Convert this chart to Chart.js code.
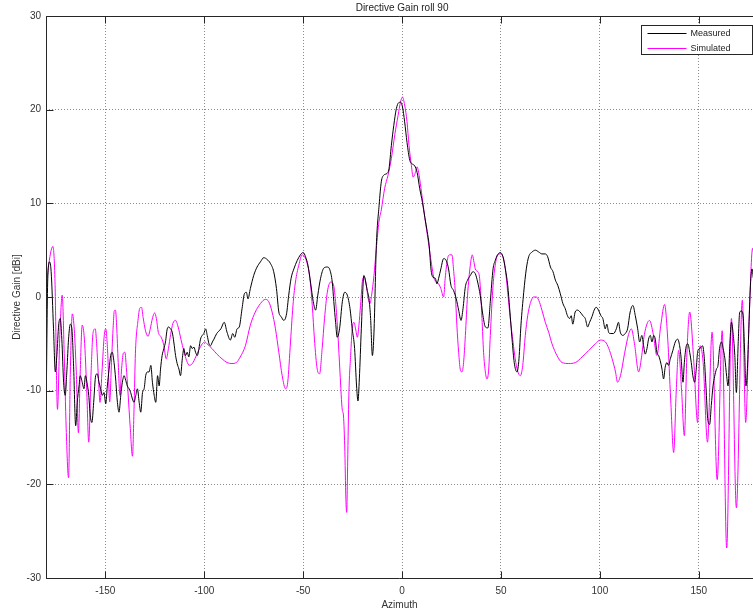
<!DOCTYPE html>
<html><head><meta charset="utf-8">
<script src="https://cdn.jsdelivr.net/npm/chart.js@4.4.1/dist/chart.umd.min.js"></script>
<style>html,body{margin:0;padding:0;background:#fff;overflow:hidden}</style>
</head><body>
<canvas id="c" width="753" height="613"></canvas>
<script>
const chartTitle = 'Directive Gain roll 90';
const xAxisTitle = 'Azimuth';
const yAxisTitle = 'Directive Gain [dBi]';
const seriesNames = ['Measured', 'Simulated'];
const xTicks = [-150, -100, -50, 0, 50, 100, 150];
const yTicks = [-30, -20, -10, 0, 10, 20, 30];

// [azimuth (deg), gain (dBi)]
const measured = [
[-180,-13.4],[-179.1,2],[-178.2,3.75],[-177.4,2.7],[-176.2,-3.4],[-175.3,-8],[-174.5,-6.2],[-173.6,-3],[-172.8,-2.3],[-172,-4.5],[-171.1,-9.1],[-170.3,-10.5],[-169.4,-7.7],[-168.6,-4.5],[-167.7,-2.9],[-166.9,-3.4],[-166,-7.7],[-165,-13.75],[-164.2,-11.25],[-163.3,-9.5],[-162.7,-8.4],[-161.7,-9.1],[-160.8,-9.8],[-160.1,-8.4],[-159.3,-9.1],[-158.4,-10.5],[-157.6,-12.7],[-156.8,-13.4],[-155.9,-11.25],[-154.9,-8.4],[-154.1,-8.2],[-153.2,-9.1],[-152.4,-9.8],[-151.5,-10.5],[-150.7,-10.2],[-149.8,-11.4],[-149,-9.5],[-148.1,-7.7],[-147.3,-6.25],[-146.5,-5.9],[-145.6,-7],[-144.8,-8.75],[-143.9,-11.25],[-143.1,-12.3],[-142.2,-10.5],[-141.4,-9.1],[-140.5,-8.4],[-139.7,-8.9],[-138.9,-9.5],[-138,-9.8],[-137.2,-10.2],[-136.3,-10.9],[-135.5,-11.25],[-134.6,-10.5],[-133.8,-9.8],[-132.9,-11.25],[-132.1,-12.3],[-131.2,-10.2],[-130.4,-9.8],[-129.6,-8.4],[-128.7,-8],[-127.9,-8],[-127,-7.3],[-126.2,-9.1],[-125.3,-10.5],[-124.5,-11.25],[-123.6,-8.4],[-122.8,-9.5],[-122.1,-7.7],[-121.3,-6.25],[-120.4,-5.5],[-119.6,-4.8],[-118.7,-3.4],[-117.9,-3.2],[-117.1,-3.4],[-116.2,-3.75],[-115.4,-4.8],[-114.5,-6.25],[-113.7,-7.1],[-112.8,-7.7],[-112,-8.4],[-111.1,-6.6],[-110.3,-5.5],[-109.5,-6.25],[-108.6,-5.9],[-107.8,-6.4],[-106.9,-5.2],[-106.1,-5.5],[-105.2,-5.35],[-104.4,-5.9],[-103.5,-6.25],[-102.7,-5.5],[-101.9,-4.5],[-101,-4.1],[-100.2,-3.9],[-99.3,-3.4],[-98.5,-4.1],[-97.6,-5],[-96.8,-5.2],[-95.9,-4.8],[-95.1,-4.5],[-93.7,-3.9],
[-91.6,-3.4],[-89.9,-2.7],[-88.5,-3.75],[-86.8,-4.6],[-85.6,-3.9],[-84.6,-4.3],[-83.4,-3.4],[-82.3,-3.2],[-80.9,-1.25],[-79.7,0.35],[-78.7,0.5],[-77.9,-0.2],[-76.7,0.9],[-75,2.3],[-73.3,3.2],[-71.6,3.75],[-69.9,4.2],[-68.2,4],[-66.6,3.6],[-64.9,2.7],[-63.5,0.9],[-62.3,-1.6],[-61.1,-2.1],[-59.8,-2.5],[-58.4,-1.8],[-57.3,0.2],[-56.1,2],[-54.7,3],[-53,3.9],[-51.4,4.5],[-50,4.75],[-48.8,4.3],[-47.6,3.4],[-46.3,1.6],[-44.9,-0.5],[-43.7,-1.4],[-42.6,0.2],[-41.2,2],[-39.5,3.1],[-37.8,3.2],[-36.5,2.9],[-35.3,1.6],[-34.5,-0.5],[-33.6,-2.7],[-32.8,-4.3],[-31.6,-3.4],[-30.2,-0.5],[-29,0.5],[-27.7,0.2],[-26.3,-1.25],[-25.2,-3.4],[-24,-5.5],[-23,-9.5],[-22.3,-11.1],[-21.6,-8.75],[-20.6,-3.4],[-19.3,2.3],[-18.4,1.6],[-17.6,0.7],[-16.7,-0.2],[-15.9,-2.3],[-15,-6.25],[-14.2,-3.75],
[-13,5.5],[-11.6,9.8],[-10.5,12.3],[-9.3,13],[-7.6,13.2],[-6.6,13.7],[-5.4,16.2],[-4.2,18.3],[-2.9,20.1],[-1.7,20.75],[-0.7,20.8],[0.2,20.3],[1.3,18.7],[2.5,16.5],[3.9,14.6],[5.2,14.2],[6.4,14],[7.6,13.3],[8.9,11.6],[10.3,10.1],[11.5,8.5],[12.7,7],[13.7,5.5],[14.6,3],[15.6,2.1],[16.8,2],[17.6,1.4],[18.5,2],[19.6,3],[21,4.1],[22.3,3.9],[23.5,3],[24.7,1.25],[26,0.7],[27.4,-0.2],[28.6,-1.4],[29.8,-2.5],[30.8,-1.25],[32,1.1],[33.1,1.8],[34.5,2.3],[35.8,2.7],[37,2.5],[38.2,1.6],[39.5,0.2],[40.9,-2],[42.1,-3.2],[43.4,-3.3],[44.6,-0.5],[46,3],[47.1,3.9],[48.3,4.5],[49.7,4.75],[51,4.3],[52.2,3],[53.4,1.25],[54.4,-1.25],[55.6,-4.5],[56.7,-7],[58.1,-8],[59.1,-6.6],[60.1,-3],[61.5,0.5],[62.8,3],[64,4.3],[65.7,4.8],[67.4,5],[69.1,4.8],[70.7,4.6],[72.4,4.6],[73.6,4.3],[75,3.2],[76.3,2.7],[77.5,1.8],[78.7,1.25],[80,0.35],[81.3,-0.7],[82.5,-1.25],[83.6,-2],[84.7,-2.3],[85.5,-2],[86.3,-2.9],[87.5,-1.6],[88.7,-1.4],[90,-1.6],[91.4,-2],[92.6,-2.3],[93.8,-3.2],[94.8,-2.7],[96,-2.1],[97.1,-1.4],[98.1,-1.1],[99.3,-1.4],[100.5,-2],[101.5,-2.3],[102.7,-3.4],[103.5,-2.9],[104.4,-3.75],[105.2,-3.9],[106.9,-3.9],[108.3,-3.4],[109.4,-2.7],[110.3,-3.75],[111.6,-4.1],[112.8,-3.9],[114,-3.4],[115.3,-1.6],[116.7,-0.9],[117.9,-2],[119.1,-3.4],[120.1,-4.8],[121.2,-4.1],[122.1,-5.2],[122.9,-6.1],[123.8,-5.5],[124.6,-4.5],[125.5,-4.1],[126.3,-4.8],[127.2,-4.1],[128,-4.5],[128.8,-5.9],[129.7,-6.25],[130.5,-6.8],[131.4,-7.7],[132.2,-8.75],[133,-7.5],[133.9,-7],[134.7,-7.3],[135.6,-6.6],[136.9,-5.7],[138.1,-4.8],[139.3,-4.5],[140.3,-5.2],[141.1,-6.6],[142,-9.1],[142.7,-7],[143.7,-5.2],[144.5,-5],[145.4,-5.9],[146.2,-7],[147,-8.4],[147.9,-9.1],[148.7,-7.7],[149.4,-5.9],[150.3,-5.5],[151.1,-5.4],[151.9,-5.2],[152.8,-6.6],[153.6,-9.5],[154.6,-13.2],[155.5,-13.6],[156.3,-11.6],[157.2,-9.5],[158,-8.5],[158.9,-7.7],[159.7,-7.3],[160.5,-5.5],[161.5,-4.8],[162.3,-5.5],[163.2,-6.6],[164.1,-8.5],[164.8,-9.5],[165.7,-5],[166.5,-2.7],[167.4,-4],[168.2,-6.25],[169,-10.2],[169.9,-5],[170.7,-1.6],[171.6,-1.5],[172.4,-2],[173.2,-6],[173.8,-9.5],[174.5,-8],[175.2,-4],[176.1,1.25],[176.9,3],[177.6,2],[178.5,1.5],[180,0]
];

const simulated = [
[-180,0.5],[-178.9,3],[-176.5,5.4],[-175.5,2],[-174.2,-12],[-173,-4],[-171.8,0.2],[-170.8,-6],[-169.8,-14],[-168.6,-19.3],[-167.7,-8],[-166.7,-1.8],[-165.7,-3.5],[-164.7,-8],[-163.6,-14.5],[-162.7,-8],[-161.7,-3],[-160.6,-4.5],[-159.4,-10],[-158.4,-15.5],[-157.2,-8],[-156.2,-3.8],[-155.1,-3.4],[-154.4,-5],[-153.4,-9],[-152.7,-11.25],[-151.7,-8],[-150.5,-4],[-149.8,-3.4],[-148.8,-6],[-147.8,-11.2],[-146.9,-7],[-146,-3],[-145.5,-1.5],[-144.9,-1.4],[-144.3,-3],[-143.5,-7],[-142.6,-10.5],[-141.9,-8],[-140.9,-6],[-140.1,-5.9],[-139.4,-7.5],[-138.6,-10],[-137.4,-14],[-136.3,-17],[-135.5,-12],[-134.8,-6],[-133.5,-2.5],[-132.6,-1.2],[-131.7,-1.1],[-130.9,-2.2],[-129.7,-3.6],[-128.4,-4.2],[-127.4,-3.5],[-126.1,-2.2],[-125.1,-1.7],[-124.2,-2.3],[-123.2,-3.8],[-122,-4.2],[-120.6,-5],[-119.2,-6.6],[-118.1,-5.5],[-117,-4],[-115.8,-2.8],[-114.5,-2.5],[-113.2,-3.2],[-111.8,-4.5],[-110.3,-5.8],[-108.9,-6.8],[-107.5,-7.3],[-106,-7.1],[-104.3,-6.4],[-102.6,-5.6],[-101,-5],[-99.7,-4.8],[-98.6,-5],[-96.1,-5.5],[-93.6,-6.1],[-91,-6.6],[-88.5,-7],[-86,-7.1],[-83.8,-7],[-81.8,-6.4],[-79.2,-5.2],[-76.7,-3],[-74.2,-1.6],[-71.6,-0.7],[-69.1,-0.25],[-67.4,-0.5],[-65.7,-1.6],[-64,-3.4],[-62.3,-5.9],[-60.6,-8.4],[-58.9,-9.8],[-57.8,-9.1],[-56.4,-4.8],[-55,-0.5],[-53.9,1.6],[-52.2,3.4],[-50.5,4.5],[-49.3,4.3],[-48,3.6],[-46.6,2],[-45.4,-0.9],[-44.3,-4.5],[-42.9,-7.7],[-41.7,-8.2],[-40.4,-5.5],[-39.2,-2.3],[-37.8,0.5],[-36.1,1.6],[-34.8,1.4],[-33.6,-0.5],[-32.4,-4.1],[-31.4,-8],[-30.2,-12.1],[-29.7,-12.5],[-29,-15.9],[-28.4,-21.6],[-28,-23],[-27.5,-17.7],[-26.9,-10.5],[-26,-6.25],[-25.2,-3.4],[-24.3,-2.7],[-23.5,-3.4],[-22.6,-4.3],[-21.8,-3],[-21,-0.9],[-19.8,2],[-18.9,2.1],[-18.1,1.25],[-17.1,-0.2],[-16.2,-0.7],[-15.4,0.2],[-14.2,2.3],[-13,5.2],[-11.7,8],[-10.5,9.3],[-8.8,11.6],[-7.1,13],[-5.4,14.8],[-3.7,17.3],[-2,19.4],[-0.8,20.8],[0.2,21.35],[1.3,20.5],[2.5,18.7],[3.5,16.2],[4.7,14.05],[5.6,12.8],[6.6,13.2],[7.6,13.9],[8.6,13],[9.8,11.2],[11.5,8.5],[13.2,6],[14.9,3.5],[16,2.1],[17.4,1.6],[18.5,1.4],[19.6,0.9],[21,0],[21.8,2],[23,4.1],[24,4.5],[25.2,4.5],[26,3],[26.9,0.5],[27.7,-3],[28.6,-5.9],[29.4,-7.7],[30.3,-8],[31.1,-7],[32,-4.1],[33.1,0.2],[34.5,3.4],[35.5,4.5],[36.2,3.9],[37,3],[38.2,2.7],[39.2,2],[40.4,-2.3],[41.2,-5.9],[42.1,-8],[42.9,-8.75],[43.8,-7.7],[44.6,-4.1],[46,1.25],[47.1,3.4],[48.3,4.5],[49.7,4.6],[51,4.3],[52.2,3],[53.4,0.5],[54.7,-2.3],[56.1,-4.8],[57.2,-6.6],[58.4,-7.9],[59.8,-8.4],[61,-7.3],[62.3,-4.1],[63.5,-2],[64.8,-0.7],[66.5,0],[67.9,0],[69.1,-0.35],[70.7,-1.4],[72.4,-2.7],[74.1,-3.75],[75.8,-5],[78.3,-6.25],[80.9,-7],[84.2,-7.1],[87.6,-7],[91,-6.4],[94.4,-5.7],[97.7,-5],[100.2,-4.6],[102.8,-4.8],[104.5,-5.5],[106.2,-6.6],[107.9,-8],[108.9,-9.1],[110.4,-8.4],[112.5,-6],[114.5,-4],[115.9,-3.4],[117.5,-5],[119.6,-8],[121,-6.5],[122.5,-4],[125.1,-2.5],[127,-4],[128.8,-6.25],[130.8,-3],[132.7,-0.8],[134.3,-4.5],[135.8,-11],[137.3,-16.6],[138.6,-10],[139.8,-5.7],[141.3,-10],[142.7,-14.8],[144,-6],[145.4,-1.6],[147.5,-7],[149.4,-13.4],[150.6,-5.2],[152.2,-7],[154.4,-15.5],[156.7,-3.75],[159.3,-19.5],[161.8,-3.6],[164.1,-26.8],[166.5,-2.3],[169,-22.5],[172,-0.35],[173.7,-13.4],[175.5,-2],[177.2,5.2],[178.5,3],[180,0]
];

const FONT = '"Liberation Sans", Arial, sans-serif';
const toXY = arr => arr.map(p => ({x: p[0], y: p[1]}));

const decorPlugin = {
  id: 'decor',
  afterDraw(chart) {
    const {ctx, chartArea: a, scales: {x, y}} = chart;
    ctx.save();
    ctx.strokeStyle = '#262626';
    ctx.lineWidth = 1;
    const L = Math.round(a.left) + 0.5, T = Math.round(a.top) + 0.5, B = Math.round(a.bottom) + 0.5, R = a.right;
    ctx.beginPath();
    ctx.moveTo(R, T); ctx.lineTo(L, T); ctx.lineTo(L, B); ctx.lineTo(R, B);
    x.ticks.forEach(t => {
      const px = Math.round(x.getPixelForValue(t.value)) + 0.5;
      ctx.moveTo(px, T); ctx.lineTo(px, T + 7);
      ctx.moveTo(px, B); ctx.lineTo(px, B - 7);
    });
    y.ticks.forEach(t => {
      const py = Math.round(y.getPixelForValue(t.value)) + 0.5;
      ctx.moveTo(L, py); ctx.lineTo(L + 7, py);
    });
    ctx.stroke();

    // title
    ctx.fillStyle = '#222';
    ctx.font = '10px ' + FONT;
    ctx.textAlign = 'center';
    ctx.textBaseline = 'middle';
    const cx = (a.left + x.getPixelForValue(180)) / 2;
    ctx.fillText(chartTitle, cx, 8);

    // legend box
    const bx = a.right - 112 + 0.5, by = a.top + 9.5, bw = 111, bh = 29;
    ctx.fillStyle = '#fff';
    ctx.fillRect(bx, by, bw, bh);
    ctx.strokeStyle = '#262626';
    ctx.strokeRect(bx, by, bw, bh);
    ctx.font = '9px ' + FONT;
    ctx.textAlign = 'left';
    chart.data.datasets.forEach((d, i) => {
      const ly = Math.round(by + 7.5 + i * 14.5) + 0.5;
      ctx.strokeStyle = d.borderColor;
      ctx.beginPath();
      ctx.moveTo(bx + 6, ly); ctx.lineTo(bx + 45, ly);
      ctx.stroke();
      ctx.fillStyle = '#222';
      ctx.fillText(d.label, bx + 49, ly);
    });
    ctx.restore();
  }
};

new Chart(document.getElementById('c'), {
  type: 'line',
  data: {
    datasets: [
      {label: seriesNames[0], data: toXY(measured), borderColor: '#000000', borderWidth: 1, pointRadius: 0, cubicInterpolationMode: 'monotone', fill: false},
      {label: seriesNames[1], data: toXY(simulated), borderColor: '#ff00ff', borderWidth: 1, pointRadius: 0, cubicInterpolationMode: 'monotone', fill: false}
    ]
  },
  options: {
    responsive: false,
    animation: false,
    devicePixelRatio: 1,
    layout: {padding: {top: 16, left: 0, right: 0, bottom: 0}},
    plugins: {legend: {display: false}, title: {display: false}, tooltip: {enabled: false}},
    scales: {
      x: {
        type: 'linear', min: -180, max: 177.4,
        afterBuildTicks: s => { s.ticks = xTicks.map(v => ({value: v})); },
        afterFit: s => { s.height = 35; },
        grid: {color: '#8a8a8a', lineWidth: 1, drawTicks: false},
        border: {display: false, dash: [1, 2]},
        ticks: {padding: 7, color: '#333', font: {family: FONT, size: 10}, maxRotation: 0, autoSkip: false},
        title: {display: true, text: xAxisTitle, color: '#333', font: {family: FONT, size: 10}, padding: {top: 0, bottom: 2}}
      },
      y: {
        min: -30, max: 30,
        afterBuildTicks: s => { s.ticks = yTicks.map(v => ({value: v})); },
        afterFit: s => { s.width = 46; },
        grid: {color: '#8a8a8a', lineWidth: 1, drawTicks: false},
        border: {display: false, dash: [1, 2]},
        ticks: {padding: 5, color: '#333', font: {family: FONT, size: 10}, autoSkip: false},
        title: {display: true, text: yAxisTitle, color: '#333', font: {family: FONT, size: 10}, padding: {top: 11, bottom: 0}}
      }
    }
  },
  plugins: [decorPlugin]
});
</script>
</body></html>
